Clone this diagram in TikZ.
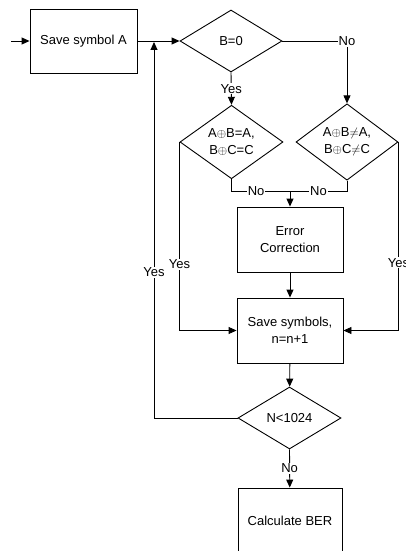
\documentclass[tikz,border=0pt]{standalone}
\usepackage{fontspec}
\setmainfont{Liberation Sans}
\usetikzlibrary{shapes.geometric, arrows.meta, positioning}

\begin{document}
\begin{tikzpicture}[x=1pt, y=-1pt, >={Triangle[length=8pt, width=7pt]}, font=\fontsize{13}{17}\selectfont, line width=0.9pt]
	\tikzset{
		box/.style={draw, rectangle, align=center, inner sep=2pt},
		test/.style={draw, diamond, align=center, inner sep=0pt},
		lbl/.style={fill=white, inner sep=1pt}
	}
	\useasboundingbox (0,0) rectangle (406,551);
	
	% Start
	\coordinate (in) at (11, 41);
	\node[box, minimum width=107pt, minimum height=64pt] (saveA) at (83.5, 41) {Save symbol A};
	\node[test, minimum width=102pt, minimum height=62pt] (bzero) at (231, 41) {B=0};
	
	% Checks
	\node[test, minimum width=103pt, minimum height=65pt] (condL) at (231.5, 142) {A$\oplus$B=A,\\B$\oplus$C=C};
	\node[test, minimum width=102pt, minimum height=65pt] (condR) at (347, 142) {A$\oplus$B$\neq$A,\\B$\oplus$C$\neq$C};
	\coordinate (merge) at (290, 191);
	
	% Correction and counting
	\node[box, minimum width=106pt, minimum height=65pt] (errcorr) at (290, 239.5) {Error\\Correction};
	\node[box, minimum width=106pt, minimum height=65pt] (savesym) at (290, 330.5) {Save symbols,\\n=n+1};
	\node[test, minimum width=103pt, minimum height=62pt] (ncheck) at (289.5, 418) {N<1024};
	\node[box, minimum width=104pt, minimum height=66pt] (ber) at (290, 521) {Calculate BER};
	\coordinate (loop) at (154, 42);
	
	\draw[->] (in) -- (saveA);
	\draw[->] (saveA) -- (bzero);
	\draw[->] (bzero.east) -| (condR.north) node[pos=0.5, lbl] {No};
	\draw[->] (bzero.south) -- (condL.north) node[midway, lbl] {Yes};
	
	\draw (condL.south) |- (merge) node[pos=0.71, lbl] {No};
	\draw (condR.south) |- (merge) node[pos=0.75, lbl] {No};
	\draw[->] (merge) -- (errcorr);
	\draw[->] (errcorr) -- (savesym);
	\draw[->] (condL.west) |- (savesym.west) node[pos=0.325, lbl] {Yes};
	\draw[->] (condR.east) |- (savesym.east) node[pos=0.32, lbl] {Yes};
	
	\draw[->] (savesym) -- (ncheck);
	\draw[->] (ncheck.south) -- (ber) node[midway, lbl] {No};
	\draw[->] (ncheck.west) -| (loop) node[pos=0.694, lbl] {Yes};
\end{tikzpicture}
\end{document}
